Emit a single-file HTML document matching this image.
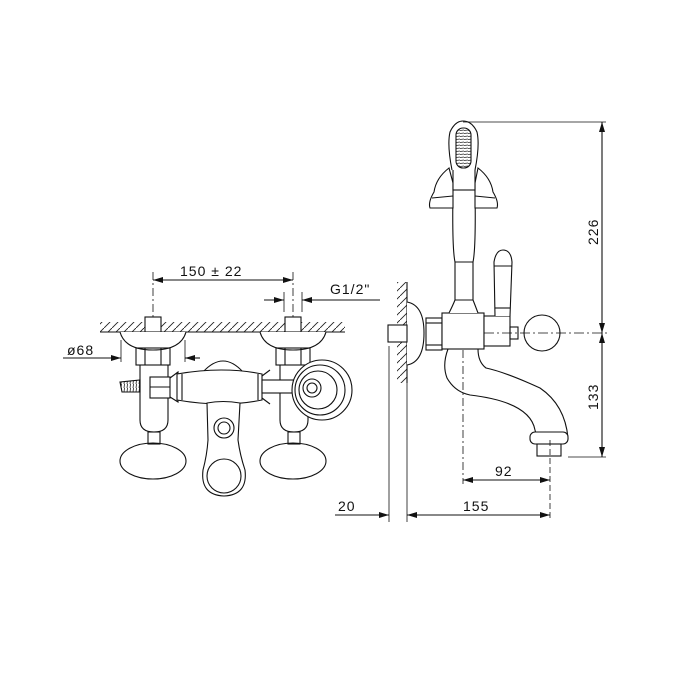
<!DOCTYPE html>
<html><head><style>
html,body{margin:0;padding:0;background:#fff;}
svg{display:block;}
text{font-family:"Liberation Sans",sans-serif;font-size:14px;fill:#111;letter-spacing:1px;}
</style></head><body>
<svg width="700" height="700" viewBox="0 0 700 700" xmlns="http://www.w3.org/2000/svg">
<defs>
<marker id="a" viewBox="0 0 10 6" refX="10" refY="3" markerWidth="10" markerHeight="6" orient="auto-start-reverse" markerUnits="userSpaceOnUse"><path d="M0,0 L10,3 L0,6 z" fill="#111"/></marker>
<pattern id="h" width="8" height="8" patternUnits="userSpaceOnUse"><path d="M0,8 L8,0" stroke="#222" stroke-width="0.9"/></pattern>
<pattern id="hz" width="4" height="3" patternUnits="userSpaceOnUse"><path d="M0,1.5 L4,1" stroke="#222" stroke-width="0.8"/></pattern>
<pattern id="vt" width="3" height="4" patternUnits="userSpaceOnUse"><path d="M1.5,0 L1,4" stroke="#222" stroke-width="0.8"/></pattern>
</defs>
<g fill="none" stroke="#111" stroke-width="1.1">
<!-- LEFT VIEW -->
<line x1="153" y1="280" x2="293" y2="280" marker-start="url(#a)" marker-end="url(#a)"/>
<line x1="153" y1="272" x2="153" y2="340" stroke-dasharray="8,3,2,3" stroke-width="0.8"/>
<line x1="293" y1="272" x2="293" y2="340" stroke-dasharray="8,3,2,3" stroke-width="0.8"/>
<line x1="284" y1="292" x2="284" y2="312" stroke-width="0.8"/>
<line x1="302" y1="292" x2="302" y2="312" stroke-width="0.8"/>
<line x1="264" y1="300" x2="284" y2="300" marker-end="url(#a)"/>
<line x1="380" y1="300" x2="302" y2="300" marker-end="url(#a)"/>
<line x1="63" y1="358" x2="121" y2="358" marker-end="url(#a)"/>
<line x1="200" y1="358" x2="185" y2="358" marker-end="url(#a)"/>
<line x1="121" y1="340" x2="121" y2="362" stroke-width="0.8"/>
<line x1="185" y1="340" x2="185" y2="362" stroke-width="0.8"/>
<rect x="100" y="322" width="245" height="10" fill="url(#h)" stroke="none"/>
<line x1="100" y1="332" x2="345" y2="332"/>
<rect x="145" y="317" width="16" height="15" fill="#fff"/>
<rect x="285" y="317" width="16" height="15" fill="#fff"/>
<path d="M120,332 Q125,350 153,350 Q181,350 186,332" fill="#fff"/>
<path d="M260,332 Q265,350 293,350 Q321,350 326,332" fill="#fff"/>
<rect x="136" y="348" width="34" height="17"/><line x1="145" y1="348" x2="145" y2="365"/><line x1="161" y1="348" x2="161" y2="365"/>
<rect x="276" y="348" width="34" height="17"/><line x1="285" y1="348" x2="285" y2="365"/><line x1="301" y1="348" x2="301" y2="365"/>
<path d="M140,365 V420 Q140,432 154,432 Q168,432 168,420 V365"/>
<path d="M280,365 V420 Q280,432 294,432 Q308,432 308,420 V365"/>
<rect x="148" y="432" width="12" height="12"/>
<rect x="288" y="432" width="12" height="12"/>
<ellipse cx="153" cy="461" rx="33" ry="18"/>
<ellipse cx="293" cy="461" rx="33" ry="18"/>
<path d="M120,382 L140,380 L140,392 L122,392 Z" fill="url(#vt)"/>
<rect x="150" y="377" width="20" height="21" fill="#fff"/>
<line x1="150" y1="387" x2="170" y2="387"/>
<path d="M170,378 L178,372 L178,402 L170,397"/>
<path d="M203,372 Q223,350 243,372" fill="#fff"/>
<path d="M177,374 Q223,366 262,374 V400 Q223,408 177,400 Z" fill="#fff"/>
<line x1="182" y1="374" x2="182" y2="400"/><line x1="258" y1="374" x2="258" y2="400"/>
<path d="M262,376 L270,370 M262,398 L270,404"/>
<path d="M207,403 Q223,400 240,403 L238,440 Q240,455 245,470 Q248,495 224,496 Q200,495 203,470 Q207,455 208,440 Z" fill="#fff"/>
<circle cx="224" cy="476" r="17"/>
<circle cx="224" cy="428" r="10"/><circle cx="224" cy="428" r="6"/>
<rect x="262" y="380" width="50" height="13" fill="#fff"/>
<circle cx="322" cy="390" r="30" fill="#fff"/>
<circle cx="320" cy="390" r="25"/>
<circle cx="318" cy="390" r="19"/>
<circle cx="312" cy="388" r="9"/>
<circle cx="312" cy="388" r="5"/>

<!-- RIGHT VIEW -->
<rect x="397" y="282" width="10" height="101" fill="url(#h)" stroke="none"/>
<line x1="407" y1="282" x2="407" y2="383"/>
<line x1="407" y1="383" x2="407" y2="522" stroke-width="0.8"/>
<line x1="389" y1="346" x2="389" y2="522" stroke-width="0.8"/>
<path d="M407,302 Q424,305 424,333 Q424,362 407,365" fill="#fff"/>
<rect x="388" y="325" width="19" height="17" fill="#fff"/>
<rect x="426" y="318" width="16" height="32" fill="#fff"/>
<line x1="426" y1="323" x2="442" y2="323"/><line x1="426" y1="345" x2="442" y2="345"/>
<path d="M448,349 Q442,365 447,378 Q455,392 470,395 Q530,402 535,430 L537,438 L568,438 Q565,405 540,388 Q505,372 486,368 Q478,362 478,349" fill="#fff"/>
<rect x="530" y="432" width="38" height="12" rx="5" fill="#fff"/>
<rect x="537" y="444" width="24" height="12" fill="#fff"/>
<rect x="442" y="313" width="42" height="36" fill="#fff"/>
<rect x="484" y="316" width="26" height="30" fill="#fff"/>
<rect x="510" y="327" width="8" height="12"/>
<circle cx="542" cy="333" r="18" fill="#fff"/>
<path d="M495,316 L494,262 Q496,250 503,250 Q511,250 512,262 L510,316" fill="#fff"/>
<line x1="494" y1="266" x2="512" y2="266"/><line x1="495" y1="308" x2="510" y2="308"/>
<path d="M449,313 Q453,305 455,300 L455,262 Q452,248 453,190 L475,190 Q476,248 473,262 L473,300 Q475,305 478,313" fill="#fff"/>
<line x1="455" y1="262" x2="473" y2="262"/><line x1="455" y1="300" x2="473" y2="300"/>
<path d="M449,168 Q436,178 434,192 Q428,202 430,208 L453,208 L453,183 Z" fill="#fff"/>
<path d="M478,168 Q491,178 493,192 Q499,202 497,208 L475,208 L475,183 Z" fill="#fff"/>
<path d="M432,198 L453,196 M495,198 L475,196"/>
<rect x="453" y="168" width="22" height="22" fill="#fff"/>
<path d="M452,170 Q447,145 450,132 Q455,121 463,121 Q472,121 477,132 Q480,145 475,170" fill="#fff"/>
<rect x="456" y="128" width="15" height="40" rx="7" fill="url(#hz)"/>
<line x1="463" y1="122" x2="606" y2="122" stroke-width="0.8"/>
<line x1="602" y1="122" x2="602" y2="333" marker-start="url(#a)" marker-end="url(#a)"/>
<line x1="602" y1="333" x2="602" y2="457" marker-start="url(#a)" marker-end="url(#a)"/>
<line x1="484" y1="333" x2="610" y2="333" stroke-dasharray="10,3,2,3" stroke-width="0.8"/>
<line x1="568" y1="457" x2="606" y2="457" stroke-width="0.8"/>
<line x1="463" y1="350" x2="463" y2="484" stroke-dasharray="8,3,2,3" stroke-width="0.8"/>
<line x1="550" y1="440" x2="550" y2="520" stroke-dasharray="6,3" stroke-width="0.8"/>
<line x1="463" y1="480" x2="550" y2="480" marker-start="url(#a)" marker-end="url(#a)"/>
<line x1="407" y1="515" x2="550" y2="515" marker-start="url(#a)" marker-end="url(#a)"/>
<line x1="335" y1="515" x2="389" y2="515" marker-end="url(#a)"/>
</g>
<text x="180" y="276">150 ± 22</text>
<text x="330" y="294">G1/2"</text>
<text x="67" y="355">ø68</text>
<text x="338" y="511">20</text>
<text x="463" y="511">155</text>
<text x="495" y="476">92</text>
<text transform="translate(598,245) rotate(-90)">226</text>
<text transform="translate(598,410) rotate(-90)">133</text>
</svg>
</body></html>
